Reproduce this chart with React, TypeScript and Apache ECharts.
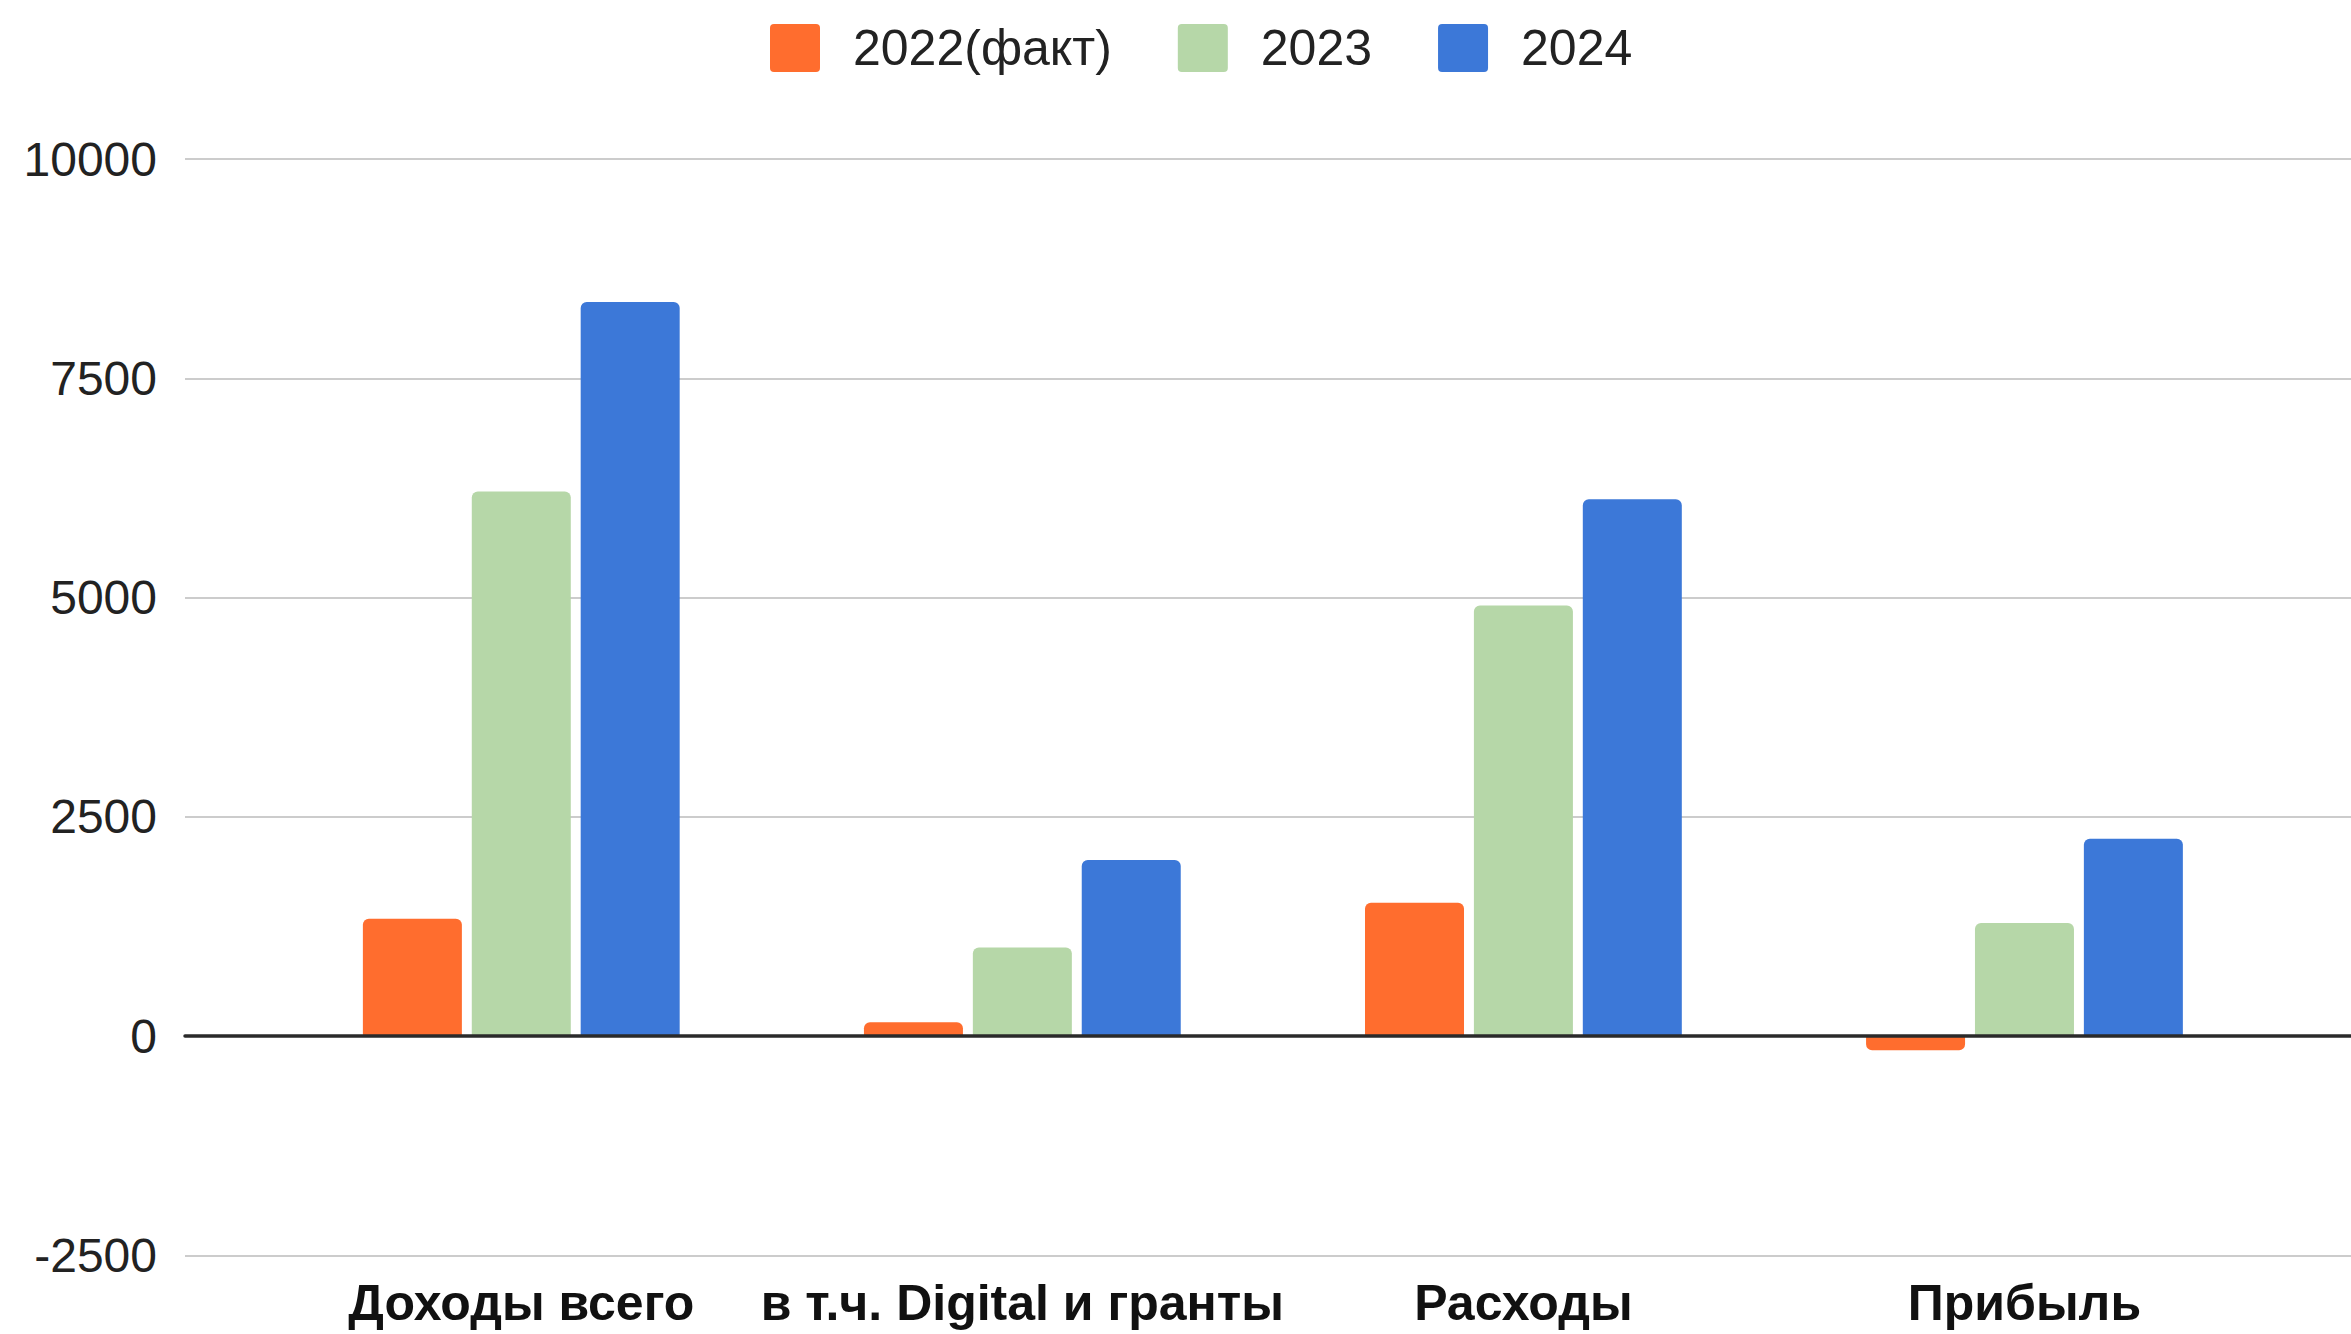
import React, { useEffect, useRef } from "react";
import * as echarts from "echarts";

const categories = ["Доходы всего", "в т.ч. Digital и гранты", "Расходы", "Прибыль"];
const seriesNames = ["2022(факт)", "2023", "2024"];
const values2022 = [1340, 160, 1520, -160];
const values2023 = [6210, 1010, 4910, 1290];
const values2024 = [8370, 2010, 6120, 2250];
const colors = ["#ff6d2e", "#b6d7a8", "#3c78d8"];
const yMin = -2500;
const yMax = 10000;
const yStep = 2500;

const FONT = "'Liberation Sans', Arial, sans-serif";
const LEGEND_ICON =
  "path://M4,0H46Q50,0 50,4V44Q50,48 46,48H4Q0,48 0,44V4Q0,0 4,0Z";

export default function App() {
  const ref = useRef<HTMLDivElement>(null);
  useEffect(() => {
    if (!ref.current) return;
    const chart = echarts.init(ref.current, undefined, { renderer: "svg" });
    const allValues = [values2022, values2023, values2024];
    const series = allValues.map((vals, i) => ({
      name: seriesNames[i],
      type: "bar",
      xAxisIndex: 1,
      yAxisIndex: 1,
      barWidth: 99,
      barGap: "10%",
      itemStyle: { color: colors[i], borderRadius: [6, 6, 0, 0] },
      data: vals.map((v) =>
        v < 0 ? { value: v, itemStyle: { borderRadius: [0, 0, 6, 6] } } : v
      ),
    }));
    chart.setOption({
      animation: false,
      backgroundColor: "#ffffff",
      textStyle: { fontFamily: FONT },
      legend: {
        top: 18,
        left: 765,
        itemWidth: 50,
        itemHeight: 48,
        itemGap: 66,
        icon: LEGEND_ICON,
        textStyle: {
          fontFamily: FONT,
          fontSize: 50,
          color: "#222",
          padding: [0, 0, 0, 28],
        },
        data: seriesNames,
      },
      grid: [
        { left: 185, right: 0, top: 159, bottom: 78.5 },
        { left: 270.75, right: 76, top: 159, bottom: 78.5 },
      ],
      xAxis: [
        {
          type: "category",
          gridIndex: 0,
          data: [""],
          z: 10,
          axisLine: { show: true, onZero: true, lineStyle: { color: "#2a2a2a", width: 3.5 } },
          axisTick: { show: false },
          axisLabel: { show: false },
          splitLine: { show: false },
        },
        {
          type: "category",
          gridIndex: 1,
          data: categories,
          axisLine: { show: false, onZero: false },
          axisTick: { show: false },
          axisLabel: {
            margin: 22,
            fontFamily: FONT,
            fontSize: 50,
            fontWeight: "bold",
            color: "#111",
            interval: 0,
          },
        },
      ],
      yAxis: [
        {
          type: "value",
          gridIndex: 0,
          min: yMin,
          max: yMax,
          interval: yStep,
          axisLine: { show: false },
          axisTick: { show: false },
          axisLabel: {
            margin: 28,
            fontFamily: FONT,
            fontSize: 48,
            color: "#222",
            formatter: (v: number) => String(v),
          },
          splitLine: { lineStyle: { color: "#cccccc", width: 2 } },
        },
        {
          type: "value",
          gridIndex: 1,
          min: yMin,
          max: yMax,
          interval: yStep,
          show: false,
          splitLine: { show: false },
        },
      ],
      series,
    });
    return () => chart.dispose();
  }, []);
  return (
    <div
      ref={ref}
      style={{ position: "fixed", left: 0, top: 0, width: 2351, height: 1334 }}
    />
  );
}
